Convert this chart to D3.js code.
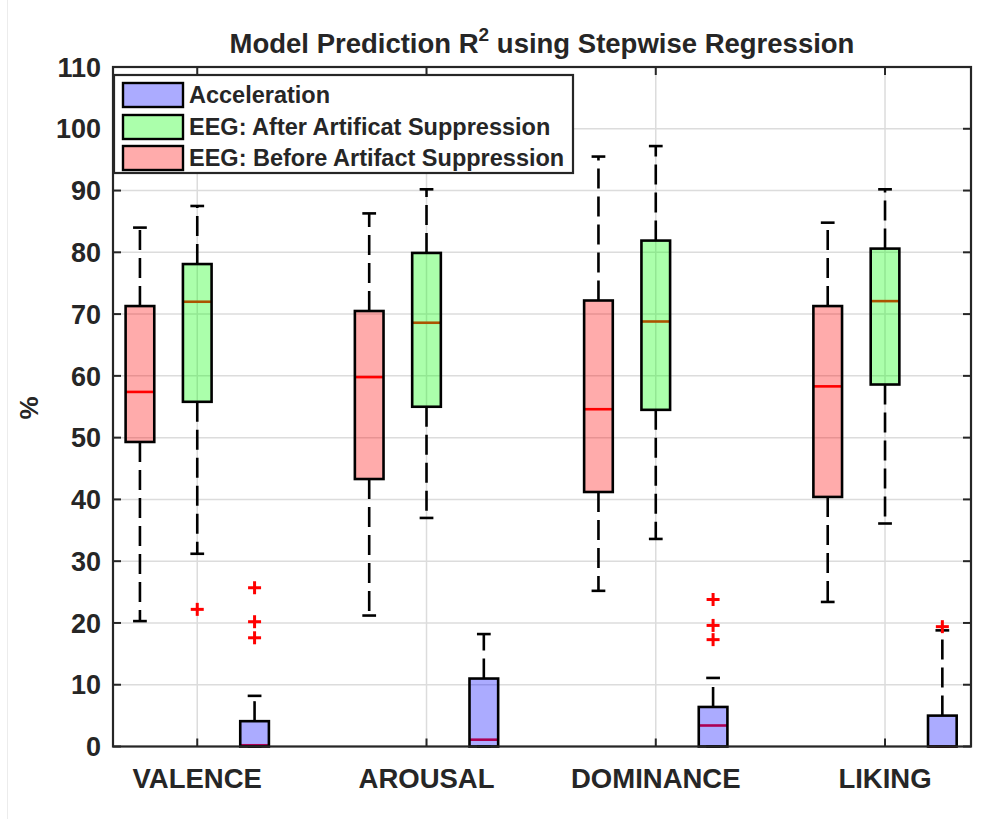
<!DOCTYPE html>
<html>
<head>
<meta charset="utf-8">
<script src="https://cdn.jsdelivr.net/npm/d3@7"></script>
<style>
  html, body { margin: 0; padding: 0; background: #fff; }
  svg { display: block; }
  text { font-family: "Liberation Sans", Arial, Helvetica, sans-serif; fill: #262626; }
</style>
</head>
<body>
<svg id="chart" width="1001" height="819"></svg>
<script>
// ---------------- data ----------------
const categories = ["VALENCE", "AROUSAL", "DOMINANCE", "LIKING"];
const yTicks = [0, 10, 20, 30, 40, 50, 60, 70, 80, 90, 100, 110];
const seriesNames = ["EEG: Before Artifact Suppression", "EEG: After Artificat Suppression", "Acceleration"];
const legendOrder = ["Acceleration", "EEG: After Artificat Suppression", "EEG: Before Artifact Suppression"];

// EEG before artifact suppression (red)
const beforeLow    = [20.3, 21.2, 25.2, 23.4];
const beforeQ1     = [49.3, 43.3, 41.2, 40.4];
const beforeMedian = [57.4, 59.8, 54.6, 58.3];
const beforeQ3     = [71.3, 70.5, 72.2, 71.3];
const beforeHigh   = [84.0, 86.3, 95.5, 84.8];
const beforeOutliers = [[], [], [], []];

// EEG after artifact suppression (green)
const afterLow    = [31.2, 37.0, 33.6, 36.1];
const afterQ1     = [55.8, 55.0, 54.5, 58.6];
const afterMedian = [72.0, 68.6, 68.8, 72.1];
const afterQ3     = [78.1, 79.9, 81.9, 80.6];
const afterHigh   = [87.5, 90.2, 97.2, 90.2];
const afterOutliers = [[22.2], [], [], []];

// Acceleration (blue)
const accLow    = [0, 0, 0, 0];
const accQ1     = [0, 0, 0, 0];
const accMedian = [0.2, 1.1, 3.4, 0];
const accQ3     = [4.1, 11.0, 6.4, 5.0];
const accHigh   = [8.2, 18.2, 11.1, 18.8];
const accOutliers = [[25.7, 20.2, 17.6], [], [23.8, 19.6, 17.3], [19.4]];

// ---------------- build ----------------
const seriesColors = {
  "EEG: Before Artifact Suppression": "#ff0000",
  "EEG: After Artificat Suppression": "#00ff00",
  "Acceleration": "#0000ff"
};
const series = [
  {name: seriesNames[0], offset: -1, low: beforeLow, q1: beforeQ1, med: beforeMedian, q3: beforeQ3, high: beforeHigh, out: beforeOutliers},
  {name: seriesNames[1], offset: 0,  low: afterLow,  q1: afterQ1,  med: afterMedian,  q3: afterQ3,  high: afterHigh,  out: afterOutliers},
  {name: seriesNames[2], offset: 1,  low: accLow,    q1: accQ1,    med: accMedian,    q3: accQ3,    high: accHigh,    out: accOutliers}
];
const boxes = [];
series.forEach(s => categories.forEach((c, i) => {
  boxes.push({series: s.name, cat: i, pos: 4 * i + 2 + s.offset,
    low: s.low[i], q1: s.q1[i], med: s.med[i], q3: s.q3[i], high: s.high[i], out: s.out[i]});
}));

const svg = d3.select("#chart");
const L = 113, R = 971, T = 67, B = 746.5;
const x = d3.scaleLinear().domain([0.53, 15.5]).range([L, R]);
const y = d3.scaleLinear().domain([0, 110]).range([B, T]);
const catPos = i => 4 * i + 2;
const boxW = 0.5, capW = 0.24;
const fillAlpha = 0.33;

// faint image border on left
svg.append("line").attr("x1", 7.5).attr("x2", 7.5).attr("y1", 0).attr("y2", 819)
  .attr("stroke", "#ececec").attr("stroke-width", 1);

// plot background
svg.append("rect").attr("x", L).attr("y", T).attr("width", R - L).attr("height", B - T).attr("fill", "#fff");

// grid
const grid = svg.append("g");
grid.selectAll("line.gy").data(yTicks).join("line")
  .attr("x1", L).attr("x2", R).attr("y1", d => y(d)).attr("y2", d => y(d))
  .attr("stroke", "#dcdcdc").attr("stroke-width", 1.5);
grid.selectAll("line.gx").data(categories).join("line")
  .attr("x1", (d, i) => x(catPos(i))).attr("x2", (d, i) => x(catPos(i)))
  .attr("y1", T).attr("y2", B)
  .attr("stroke", "#dcdcdc").attr("stroke-width", 1.5);

// boxes
const g = svg.append("g");
const bx = g.selectAll("g.box").data(boxes).join("g");
// whiskers (dashed, from box outward)
bx.append("line")
  .attr("x1", d => x(d.pos)).attr("x2", d => x(d.pos))
  .attr("y1", d => y(d.q3)).attr("y2", d => y(d.high))
  .attr("stroke", "#000").attr("stroke-width", 2.6).attr("stroke-dasharray", "20,8");
bx.append("line")
  .attr("x1", d => x(d.pos)).attr("x2", d => x(d.pos))
  .attr("y1", d => y(d.q1)).attr("y2", d => y(d.low))
  .attr("stroke", "#000").attr("stroke-width", 2.6).attr("stroke-dasharray", "20,8");
// caps
["high", "low"].forEach(k => {
  bx.append("line")
    .attr("x1", d => x(d.pos - capW / 2)).attr("x2", d => x(d.pos + capW / 2))
    .attr("y1", d => y(d[k])).attr("y2", d => y(d[k]))
    .attr("stroke", "#000").attr("stroke-width", 2.6);
});
// median (red, under translucent fill)
bx.append("line")
  .attr("x1", d => x(d.pos - boxW / 2)).attr("x2", d => x(d.pos + boxW / 2))
  .attr("y1", d => y(d.med)).attr("y2", d => y(d.med))
  .attr("stroke", "#ff0000").attr("stroke-width", 2.6);
// box
bx.append("rect")
  .attr("x", d => x(d.pos - boxW / 2)).attr("width", d => x(d.pos + boxW / 2) - x(d.pos - boxW / 2))
  .attr("y", d => y(d.q3)).attr("height", d => y(d.q1) - y(d.q3))
  .attr("fill", d => seriesColors[d.series]).attr("fill-opacity", fillAlpha)
  .attr("stroke", "#000").attr("stroke-width", 2.6);
// outliers
const outs = [];
boxes.forEach(b => b.out.forEach(v => outs.push({pos: b.pos, v})));
const om = 6.5;
const og = g.selectAll("g.out").data(outs).join("g")
  .attr("transform", d => `translate(${x(d.pos)},${y(d.v)})`);
og.append("line").attr("x1", -om).attr("x2", om).attr("y1", 0).attr("y2", 0).attr("stroke", "#ff0000").attr("stroke-width", 3);
og.append("line").attr("x1", 0).attr("x2", 0).attr("y1", -om).attr("y2", om).attr("stroke", "#ff0000").attr("stroke-width", 3);

// axes frame
svg.append("rect").attr("x", L).attr("y", T).attr("width", R - L).attr("height", B - T)
  .attr("fill", "none").attr("stroke", "#262626").attr("stroke-width", 2.2);

// ticks (inward, all sides)
const tk = 8;
const axes = svg.append("g").attr("stroke", "#262626").attr("stroke-width", 2);
axes.selectAll("line.yl").data(yTicks).join("line")
  .attr("x1", L).attr("x2", L + tk).attr("y1", d => y(d)).attr("y2", d => y(d));
axes.selectAll("line.yr").data(yTicks).join("line")
  .attr("x1", R).attr("x2", R - tk).attr("y1", d => y(d)).attr("y2", d => y(d));
axes.selectAll("line.xb").data(categories).join("line")
  .attr("x1", (d, i) => x(catPos(i))).attr("x2", (d, i) => x(catPos(i))).attr("y1", B).attr("y2", B - tk);
axes.selectAll("line.xt").data(categories).join("line")
  .attr("x1", (d, i) => x(catPos(i))).attr("x2", (d, i) => x(catPos(i))).attr("y1", T).attr("y2", T + tk);

// tick labels
svg.append("g").selectAll("text").data(yTicks).join("text")
  .attr("x", L - 12).attr("y", d => y(d)).attr("dy", "0.36em")
  .attr("text-anchor", "end").attr("font-size", 27).attr("font-weight", "bold")
  .text(d => d);
svg.append("g").selectAll("text").data(categories).join("text")
  .attr("x", (d, i) => x(catPos(i))).attr("y", 788)
  .attr("text-anchor", "middle").attr("font-size", 27.5).attr("font-weight", "bold")
  .text(d => d);

// y label
svg.append("text").attr("transform", "translate(38,408) rotate(-90)")
  .attr("text-anchor", "middle").attr("font-size", 26).attr("font-weight", "bold").text("%");

// title
const title = svg.append("text").attr("x", (L + R) / 2).attr("y", 53)
  .attr("text-anchor", "middle").attr("font-size", 27.5).attr("font-weight", "bold");
title.append("tspan").text("Model Prediction R");
title.append("tspan").attr("font-size", 19).attr("dy", -12).text("2");
title.append("tspan").attr("dy", 12).text(" using Stepwise Regression");

// legend
const lg = svg.append("g");
lg.append("rect").attr("x", 114).attr("y", 75).attr("width", 459).attr("height", 98)
  .attr("fill", "#fff").attr("stroke", "#262626").attr("stroke-width", 2.2);
const rowY = [95, 127, 158];
const li = lg.selectAll("g.item").data(legendOrder).join("g")
  .attr("transform", (d, i) => `translate(0,${rowY[i]})`);
li.append("rect").attr("x", 123).attr("y", -12).attr("width", 60).attr("height", 24)
  .attr("fill", d => seriesColors[d]).attr("fill-opacity", fillAlpha)
  .attr("stroke", "#000").attr("stroke-width", 2.4);
li.append("text").attr("x", 189).attr("y", 0).attr("dy", "0.36em")
  .attr("font-size", 23.5).attr("font-weight", "bold").text(d => d);
</script>
</body>
</html>
